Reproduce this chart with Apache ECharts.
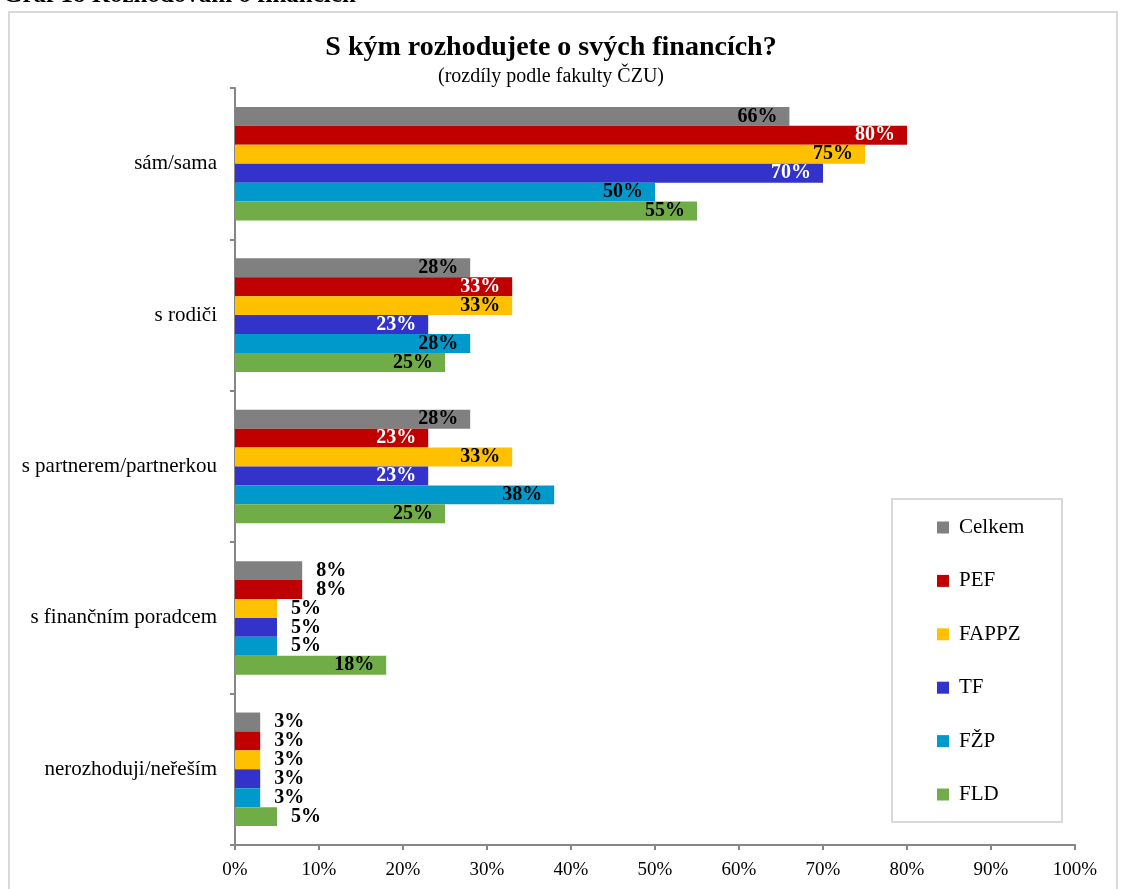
<!DOCTYPE html>
<html lang="cs">
<head>
<meta charset="utf-8">
<title>S kým rozhodujete o svých financích?</title>
<script src="https://cdn.jsdelivr.net/npm/echarts@6/dist/echarts.min.js"></script>
<style>
  html, body { margin: 0; padding: 0; background: #ffffff; }
  #chart { width: 1123px; height: 889px; }
</style>
</head>
<body>
<div id="chart"></div>
<script>
// Categories (answers), top to bottom
const categories = [
  'sám/sama',
  's rodiči',
  's partnerem/partnerkou',
  's finančním poradcem',
  'nerozhoduji/neřeším'
];

// Faculty series names
const seriesNames = ['Celkem', 'PEF', 'FAPPZ', 'TF', 'FŽP', 'FLD'];

// Share of respondents (%) per answer
const celkem = [66, 28, 28, 8, 3];
const pef    = [80, 33, 23, 8, 3];
const fappz  = [75, 33, 33, 5, 3];
const tf     = [70, 23, 23, 5, 3];
const fzp    = [50, 28, 38, 5, 3];
const fld    = [55, 25, 25, 18, 5];

// Value axis tick labels
const xTicks = [0, 10, 20, 30, 40, 50, 60, 70, 80, 90, 100];

const seriesValues = [celkem, pef, fappz, tf, fzp, fld];
const colors = ['#808080', '#C00000', '#FFC000', '#3333CC', '#0099CC', '#70AD47'];
const insideLabelColors = ['#000000', '#ffffff', '#000000', '#ffffff', '#000000', '#000000'];

const SERIF = '"Liberation Serif", "DejaVu Serif", serif';

const chart = echarts.init(document.getElementById('chart'), null, { renderer: 'canvas' });

const series = seriesNames.map((name, si) => ({
  name: name,
  type: 'bar',
  barGap: '0%',
  barCategoryGap: '25%',
  itemStyle: { color: colors[si] },
  label: {
    show: true,
    formatter: '{c}%',
    fontFamily: SERIF,
    fontWeight: 'bold',
    fontSize: 20
  },
  data: seriesValues[si].map(v => {
    const inside = v >= 10;
    return {
      value: v,
      label: {
        position: inside ? 'insideRight' : 'right',
        distance: inside ? 12 : 14,
        color: inside ? insideLabelColors[si] : '#000000'
      }
    };
  })
}));

const option = {
  animation: false,
  backgroundColor: '#ffffff',
  textStyle: { fontFamily: SERIF },
  title: {
    text: 'S kým rozhodujete o svých financích?',
    subtext: '(rozdíly podle fakulty ČZU)',
    left: 551,
    top: 33,
    textAlign: 'center',
    padding: 0,
    itemGap: 3,
    textStyle: {
      fontFamily: SERIF,
      fontWeight: 'bold',
      fontSize: 28,
      lineHeight: 30,
      color: '#000000'
    },
    subtextStyle: {
      fontFamily: SERIF,
      fontSize: 20,
      lineHeight: 22,
      color: '#000000'
    }
  },
  legend: {
    orient: 'vertical',
    left: 937,
    top: 517,
    padding: 0,
    itemGap: 32.4,
    itemWidth: 12,
    itemHeight: 12,
    icon: 'rect',
    selectedMode: false,
    z: 20,
    textStyle: {
      fontFamily: SERIF,
      fontSize: 21,
      lineHeight: 20,
      color: '#000000',
      padding: [0, 0, 0, 5]
    },
    data: seriesNames
  },
  graphic: [
    {
      type: 'rect',
      z: -10,
      silent: true,
      shape: { x: 9, y: 12, width: 1108, height: 900 },
      style: { fill: 'none', stroke: '#d9d9d9', lineWidth: 2 }
    },
    {
      type: 'text',
      z: 10,
      silent: true,
      x: 3,
      y: -4,
      style: {
        text: 'Graf 18 Rozhodování o financích',
        font: 'bold 25px ' + SERIF,
        fill: '#000000',
        verticalAlign: 'middle',
        align: 'left'
      }
    },
    {
      type: 'rect',
      z: 1,
      silent: true,
      shape: { x: 892, y: 499, width: 170, height: 323 },
      style: { fill: 'none', stroke: '#d9d9d9', lineWidth: 2 }
    }
  ],
  grid: {
    left: 235,
    right: 48,
    top: 88,
    bottom: 44,
    containLabel: false
  },
  xAxis: {
    type: 'value',
    min: 0,
    max: 100,
    interval: 10,
    splitLine: { show: false },
    axisLine: { show: true, lineStyle: { color: '#868686', width: 2 } },
    axisTick: { show: true, length: 5, lineStyle: { color: '#868686', width: 2 } },
    axisLabel: {
      margin: 16,
      fontFamily: SERIF,
      fontSize: 19,
      color: '#000000',
      formatter: v => (xTicks.includes(v) ? v + '%' : '')
    }
  },
  yAxis: {
    type: 'category',
    inverse: true,
    data: categories,
    axisLine: { show: true, lineStyle: { color: '#868686', width: 2 } },
    axisTick: { show: true, length: 5, lineStyle: { color: '#868686', width: 2 } },
    axisLabel: {
      margin: 18,
      fontFamily: SERIF,
      fontSize: 21,
      color: '#000000'
    },
    splitLine: { show: false }
  },
  series: series
};

chart.setOption(option);
</script>
</body>
</html>
